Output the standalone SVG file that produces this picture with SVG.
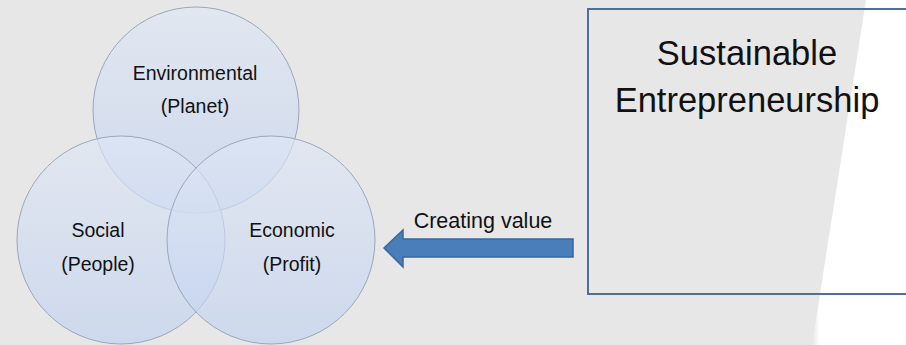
<svg xmlns="http://www.w3.org/2000/svg" width="906" height="345" viewBox="0 0 906 345">
<defs>
<linearGradient id="cg" x1="0" y1="0" x2="0" y2="1">
<stop offset="0" stop-color="#dfe7f5"/>
<stop offset="1" stop-color="#c0d1f0"/>
</linearGradient>
<linearGradient id="wg" x1="0" y1="0" x2="1" y2="0">
<stop offset="0" stop-color="#ffffff" stop-opacity="0"/>
<stop offset="0.08" stop-color="#ffffff" stop-opacity="1"/>
<stop offset="1" stop-color="#ffffff"/>
</linearGradient>
</defs>
<style>
.c{fill:url(#cg);fill-opacity:0.65;stroke:#9aa7ba;stroke-width:1}
.t{font-family:"Liberation Sans",Arial,sans-serif;fill:#111111;text-anchor:middle}
.s{font-size:19.5px}
</style>
<rect x="0" y="0" width="906" height="345" fill="#e7e7e7"/>
<polygon points="866,0 906,0 906,345 812,345" fill="url(#wg)"/>
<g id="environmental">
<circle class="c" cx="196" cy="110" r="103"/>
</g>
<g id="social">
<circle class="c" cx="121" cy="240" r="104"/>
</g>
<g id="economic">
<circle class="c" cx="271" cy="240" r="104"/>
</g>
<g id="labels">
<text class="t s" x="195" y="80">Environmental</text>
<text class="t s" x="195" y="113">(Planet)</text>
<text class="t s" x="98" y="237">Social</text>
<text class="t s" x="98" y="271">(People)</text>
<text class="t s" x="292" y="237">Economic</text>
<text class="t s" x="292" y="271">(Profit)</text>
</g>
<g id="sustainable-entrepreneurship">
<rect x="588" y="9" width="330" height="285" fill="none" stroke="#4f6e9e" stroke-width="2"/>
<text class="t" x="747" y="65" font-size="34.5">Sustainable</text>
<text class="t" x="747" y="112" font-size="34.5">Entrepreneurship</text>
</g>
<g id="connectors">
<polygon points="573,239 403,239 403,230 384,248 403,267 403,257 573,257" fill="#4a7ebb" stroke="#3a679e" stroke-width="1.5"/>
<text class="t" x="483" y="228" font-size="21.5">Creating value</text>
</g>
</svg>
